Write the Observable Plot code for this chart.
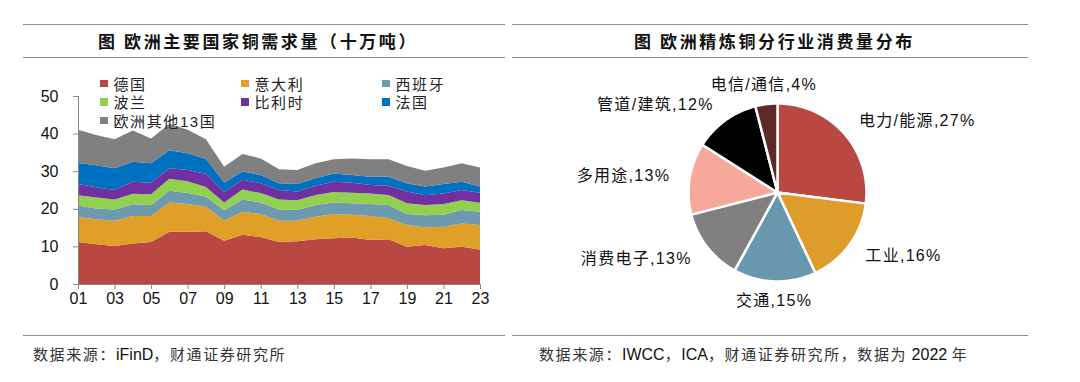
<!DOCTYPE html>
<html><head><meta charset="utf-8">
<script src="https://cdn.jsdelivr.net/npm/d3@7"></script>
<script src="https://cdn.jsdelivr.net/npm/@observablehq/plot@0.6"></script>
<style>
body{margin:0;background:#fff;}
#wrap{position:relative;width:1080px;height:382px;overflow:hidden;font-family:"Liberation Sans","Noto Sans CJK SC",sans-serif;color:#000;background:#fff;}
.hl{position:absolute;height:0;border-top:1.5px solid #8c8c8c;}
.title{position:absolute;font-family:"Noto Sans CJK SC",sans-serif;font-weight:700;font-size:17px;letter-spacing:2.6px;line-height:20px;white-space:nowrap;color:#111;}
.src{position:absolute;font-size:15px;line-height:18px;color:#333;white-space:nowrap;letter-spacing:1.6px;}
.src .lt{letter-spacing:0;font-size:16px;color:#111;}
#legend{position:absolute;left:100px;top:74px;display:grid;grid-template-columns:repeat(3,141px);grid-auto-rows:18.5px;font-size:15px;letter-spacing:1.6px;color:#222;}
#legend .it{display:flex;align-items:center;white-space:nowrap;}
#legend .sw{width:7.5px;height:7.5px;margin-right:6px;flex:none;}
#left{position:absolute;left:0;top:60px;}
#right{position:absolute;left:540px;top:60px;}
#left svg [aria-label*="axis"] line,#left svg [aria-label*="axis"] path{stroke:#888;}
#right svg text{letter-spacing:1.3px;}
</style>
</head><body>
<div id="wrap">
  <div class="hl" style="left:23px;width:482px;top:24px"></div>
  <div class="hl" style="left:512px;width:516px;top:24px"></div>
  <div class="hl" style="left:23px;width:482px;top:57px"></div>
  <div class="hl" style="left:512px;width:516px;top:57px"></div>
  <div class="hl" style="left:23px;width:482px;top:335px"></div>
  <div class="hl" style="left:512px;width:516px;top:335px"></div>
  <div class="title" style="left:98px;top:31px">图 欧洲主要国家铜需求量（十万吨）</div>
  <div class="title" style="left:634px;top:31px">图 欧洲精炼铜分行业消费量分布</div>
  <div class="src" style="left:33px;top:346px">数据来源：<span class="lt">iFinD</span>，财通证券研究所</div>
  <div class="src" style="left:539px;top:346px">数据来源：<span class="lt">IWCC</span>，<span class="lt">ICA</span>，财通证券研究所，数据为<span class="lt"> 2022 </span>年</div>
  <div id="left"></div>
  <div id="legend"></div>
  <div id="right"></div>
</div>
<script>
// ---- Left chart data (十万吨) ----
const years = [1,2,3,4,5,6,7,8,9,10,11,12,13,14,15,16,17,18,19,20,21,22,23];
const countries = ["德国","意大利","西班牙","波兰","比利时","法国","欧洲其他13国"];
const countryColors = ["#B94842","#E0A028","#6E9AB0","#92D050","#7030A0","#0070C0","#808080"];
const germany = [11.2,10.6,10.1,10.8,11.2,13.9,13.9,14.0,11.5,13.1,12.5,11.2,11.4,11.9,12.2,12.4,11.7,11.9,9.9,10.4,9.5,9.9,9.2];
const italy   = [6.6,6.6,6.7,7.3,6.9,7.8,7.4,6.6,5.3,6.1,6.1,5.6,5.4,6.0,6.4,6.0,6.4,5.6,5.8,4.7,5.7,6.2,6.5];
const spain   = [3.1,2.9,3.0,3.1,2.9,3.1,2.9,2.7,2.8,3.3,3.1,3.0,2.9,3.1,3.1,3.1,3.2,3.5,2.9,3.2,3.2,3.6,3.5];
const poland  = [2.7,2.9,2.7,2.8,2.9,3.2,3.1,2.5,2.1,2.6,2.5,2.7,2.6,2.7,2.8,2.8,2.8,2.7,2.9,2.7,2.9,2.6,2.4];
const belgium = [3.0,2.7,2.5,3.2,3.0,2.8,3.0,3.5,2.8,2.6,2.6,2.5,2.3,2.4,2.7,2.6,2.2,2.4,3.1,2.6,2.8,2.7,2.7];
const france  = [5.6,5.9,5.8,5.3,5.2,4.8,4.5,4.0,2.5,2.2,2.2,1.8,2.0,2.0,2.2,2.1,2.2,2.4,2.2,2.3,2.5,2.2,1.6];
const others  = [8.8,8.0,7.7,8.3,6.6,7.0,6.2,5.2,4.2,4.7,4.4,3.7,3.7,4.0,3.8,4.4,4.7,4.7,4.6,4.2,4.4,4.9,5.1];
const yTicks = [0,10,20,30,40,50];
const xTicks = [1,3,5,7,9,11,13,15,17,19,21,23];

// ---- Right chart data (%) ----
const sectors = ["电力/能源","工业","交通","消费电子","多用途","管道/建筑","电信/通信"];
const shares = [27,16,15,13,13,12,4];
const sectorColors = ["#B94842","#DE9C2A","#6898AE","#808080","#F6A99A","#000000","#5E2A28"];

// ---- Left: stacked area ----
const seriesList = [germany, italy, spain, poland, belgium, france, others];
const rows = countries.flatMap((c, i) => years.map((yr, j) => ({year: yr, country: c, value: seriesList[i][j]})));

const left = Plot.plot({
  width: 510, height: 260,
  marginLeft: 78, marginRight: 30, marginTop: 36, marginBottom: 36,
  style: {fontFamily: "Liberation Sans, Arial, sans-serif", fontSize: "16px", color: "#111", background: "transparent", overflow: "visible"},
  x: {domain: [1, 23], ticks: xTicks, tickFormat: d => String(d).padStart(2, "0"), tickSize: 5, tickPadding: 3, label: null},
  y: {domain: [0, 50], ticks: yTicks, tickSize: 5, tickPadding: 15, label: null},
  color: {domain: countries, range: countryColors},
  marks: [
    Plot.areaY(rows, {x: "year", y: "value", fill: "country", order: countries}),
    Plot.ruleX([1], {stroke: "#888"}),
    Plot.ruleY([0], {stroke: "#888"})
  ]
});
document.getElementById("left").appendChild(left);

// legend
const lg = document.getElementById("legend");
countries.forEach((c, i) => {
  const it = document.createElement("div");
  it.className = "it";
  const sw = document.createElement("span");
  sw.className = "sw";
  sw.style.background = countryColors[i];
  const tx = document.createElement("span");
  tx.textContent = c;
  it.appendChild(sw); it.appendChild(tx);
  lg.appendChild(it);
});

// ---- Right: pie ----
const arcs = d3.pie().sort(null).value(d => d)(shares);
const slices = arcs.map((a, i) => {
  const n = Math.max(2, Math.ceil((a.endAngle - a.startAngle) / (Math.PI / 180)));
  const pts = [{x: 0, y: 0}];
  for (let k = 0; k <= n; k++) {
    const t = a.startAngle + (a.endAngle - a.startAngle) * k / n;
    pts.push({x: Math.sin(t), y: Math.cos(t)});
  }
  pts.push({x: 0, y: 0});
  return {pts, color: sectorColors[i]};
});
const labels = arcs.map((a, i) => {
  const m = (a.startAngle + a.endAngle) / 2;
  const s = Math.sin(m), c = Math.cos(m);
  const r = 1.22;
  return {x: r * s, y: r * c, text: `${sectors[i]},${shares[i]}%`,
          anchor: Math.abs(s) < 0.3 ? "middle" : (s > 0 ? "start" : "end")};
});

const right = Plot.plot({
  width: 490, height: 270,
  margin: 0,
  style: {fontFamily: "Liberation Sans, Arial, 'Noto Sans CJK SC', sans-serif", fontSize: "16px", color: "#111", background: "transparent", overflow: "visible"},
  x: {domain: [-2.663, 2.843], axis: null},
  y: {domain: [-1.551, 1.483], axis: null},
  marks: [
    ...slices.map(s => Plot.line(s.pts, {x: "x", y: "y", fill: s.color, stroke: "white", strokeWidth: 2.5, strokeLinejoin: "round"})),
    ...["start", "middle", "end"].map(an => Plot.text(labels.filter(d => d.anchor === an), {x: "x", y: "y", text: "text", textAnchor: an, fill: "#111", fontSize: 16}))
  ]
});
document.getElementById("right").appendChild(right);
</script>
</body></html>
